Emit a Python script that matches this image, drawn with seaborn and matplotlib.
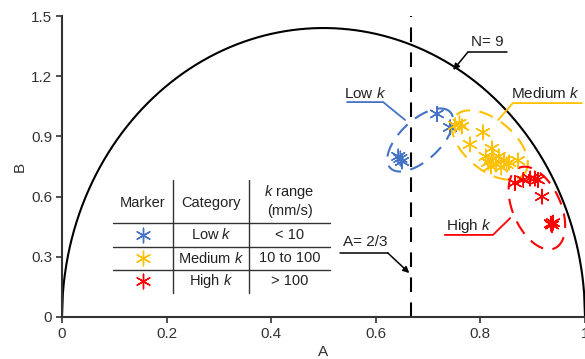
import numpy as np
import pandas as pd
import matplotlib
matplotlib.use("Agg")
import matplotlib.pyplot as plt
import seaborn as sns

# ---------------- data ----------------
low_A = [0.643, 0.650, 0.647, 0.717, 0.742]
low_B = [0.800, 0.775, 0.790, 1.012, 0.945]

med_A = [0.752, 0.760, 0.765, 0.805, 0.780, 0.822, 0.810, 0.815, 0.820,
         0.825, 0.830, 0.835, 0.840, 0.845, 0.850, 0.855, 0.872]
med_B = [0.955, 0.965, 0.950, 0.920, 0.860, 0.840, 0.800, 0.770, 0.750,
         0.790, 0.760, 0.800, 0.745, 0.780, 0.760, 0.770, 0.780]

high_A = [0.866, 0.882, 0.895, 0.904, 0.910, 0.918, 0.935, 0.939, 0.937]
high_B = [0.668, 0.683, 0.690, 0.690, 0.683, 0.600, 0.465, 0.470, 0.458]

categories = ["Low k", "Medium k", "High k"]
colors = ["#4472C4", "#FFC000", "#FF0000"]
k_ranges = ["< 10", "10 to 100", "> 100"]

x_ticks = [0, 0.2, 0.4, 0.6, 0.8, 1.0]
x_labels = ["0", "0.2", "0.4", "0.6", "0.8", "1"]
y_ticks = [0, 0.3, 0.6, 0.9, 1.2, 1.5]
y_labels = ["0", "0.3", "0.6", "0.9", "1.2", "1.5"]

N_value = 9
curve_coef = 2.88      # peak height of the N = 9 boundary
A_threshold = 2 / 3

df = pd.DataFrame({
    "A": low_A + med_A + high_A,
    "B": low_B + med_B + high_B,
    "cat": ["Low k"] * len(low_A) + ["Medium k"] * len(med_A) + ["High k"] * len(high_A),
})

# ---------------- style ----------------
sns.set_theme(style="white")
plt.rcParams["font.family"] = ["Liberation Sans", "DejaVu Sans"]
plt.rcParams["mathtext.fontset"] = "custom"
plt.rcParams["mathtext.it"] = "Liberation Sans:italic"
plt.rcParams["mathtext.rm"] = "Liberation Sans"

fig = plt.figure(figsize=(5.85, 3.59), dpi=100)
ax = fig.add_axes([62 / 585, 1 - 317 / 359, 523 / 585, 301 / 359])

# boundary curve
A_curve = np.linspace(0, 1, 600)
B_curve = curve_coef * np.sqrt(A_curve * (1 - A_curve))
ax.plot(A_curve, B_curve, color="black", lw=1.5, zorder=2, clip_on=False)

# threshold dashed line
ax.plot([A_threshold, A_threshold], [0, 1.5], color="black", lw=1.5,
        dashes=(7, 5), zorder=2)

# scatter
pal = dict(zip(categories, colors))
sns.scatterplot(data=df, x="A", y="B", hue="cat", palette=pal,
                marker=(6, 2, 0), s=110, linewidth=1.0, legend=False,
                ax=ax, zorder=4)

# dashed ellipses (pixel-space shape)
sx, sy = 523.0, 200.7  # pixels per data unit


def ell(cx, cy, a, b, ang, color):
    t = np.linspace(0, 2 * np.pi, 300)
    phi = np.deg2rad(ang)
    dx = a * np.cos(t) * np.cos(phi) - b * np.sin(t) * np.sin(phi)
    dy = a * np.cos(t) * np.sin(phi) + b * np.sin(t) * np.cos(phi)
    ax.plot(cx + dx / sx, cy + dy / sy, color=color, lw=1.5,
            dashes=(7, 4.5), zorder=3)


ell(0.685, 0.882, 41, 20, 43, colors[0])
ell(0.818, 0.857, 45, 25, -40, colors[1])
ell(0.908, 0.543, 44, 24, -66, colors[2])

# category callouts
ax.plot([0.545, 0.614, 0.656], [1.071, 1.071, 0.982], color=colors[0], lw=1.3)
ax.text(0.579, 1.115, "Low $k$", ha="center", va="center", fontsize=11, color="#222")
ax.plot([0.994, 0.862, 0.834], [1.066, 1.066, 0.982], color=colors[1], lw=1.3,
        clip_on=False)
ax.text(0.925, 1.115, "Medium $k$", ha="center", va="center", fontsize=11, color="#222")
ax.plot([0.732, 0.824, 0.857], [0.409, 0.409, 0.493], color=colors[2], lw=1.3)
ax.text(0.778, 0.452, "High $k$", ha="center", va="center", fontsize=11, color="#222")

# N = 9 and A = 2/3 callouts
ax.plot([0.851, 0.776], [1.32, 1.32], color="black", lw=1.1)
ax.annotate("", xy=(0.748, 1.231), xytext=(0.776, 1.32),
            arrowprops=dict(arrowstyle="-|>", color="black", lw=1.1,
                            mutation_scale=9, shrinkA=0, shrinkB=0))
ax.text(0.813, 1.37, f"N= {N_value}", ha="center", va="center", fontsize=11, color="#222")

ax.plot([0.532, 0.623], [0.319, 0.319], color="black", lw=1.1)
ax.annotate("", xy=(0.664, 0.219), xytext=(0.623, 0.319),
            arrowprops=dict(arrowstyle="-|>", color="black", lw=1.1,
                            mutation_scale=9, shrinkA=0, shrinkB=0))
ax.text(0.579, 0.373, "A= 2/3", ha="center", va="center", fontsize=11, color="#222")

# table
tc = "#333333"
fs = 10.5
for yy in [0.468, 0.349, 0.234]:
    ax.plot([0.097, 0.512], [yy, yy], color=tc, lw=1.0)
for xx in [0.212, 0.358]:
    ax.plot([xx, xx], [0.12, 0.683], color=tc, lw=1.0)
hy = 0.57
ax.text(0.154, hy, "Marker", ha="center", va="center", fontsize=fs, color="#222")
ax.text(0.285, hy, "Category", ha="center", va="center", fontsize=fs, color="#222")
ax.text(0.435, 0.625, "$k$ range", ha="center", va="center", fontsize=fs, color="#222")
ax.text(0.435, 0.528, "(mm/s)", ha="center", va="center", fontsize=fs, color="#222")
row_y = [0.41, 0.293, 0.177]
for cat, col, kr, ry in zip(categories, colors, k_ranges, row_y):
    ax.scatter([0.154], [ry], marker=(6, 2, 0), s=110, color=col, linewidth=1.0)
    ax.text(0.285, ry, cat.replace(" k", " $k$"), ha="center", va="center",
            fontsize=fs, color="#222")
    ax.text(0.435, ry, kr, ha="center", va="center", fontsize=fs, color="#222")

# axes
ax.set_xlim(0, 1)
ax.set_ylim(0, 1.5)
ax.set_xticks(x_ticks)
ax.set_xticklabels(x_labels)
ax.set_yticks(y_ticks)
ax.set_yticklabels(y_labels)
ax.tick_params(axis="both", direction="out", length=4, width=1.2, color="#333",
               labelsize=11, labelcolor="#333", bottom=True, left=True, pad=3)
for s in ["top", "right"]:
    ax.spines[s].set_visible(False)
for s in ["left", "bottom"]:
    ax.spines[s].set_color("#333")
    ax.spines[s].set_linewidth(1.5)
ax.set_xlabel("A", fontsize=11, color="#333", labelpad=3)
ax.set_ylabel("B", fontsize=11, color="#333", labelpad=3)

fig.savefig("out.png", dpi=100)
